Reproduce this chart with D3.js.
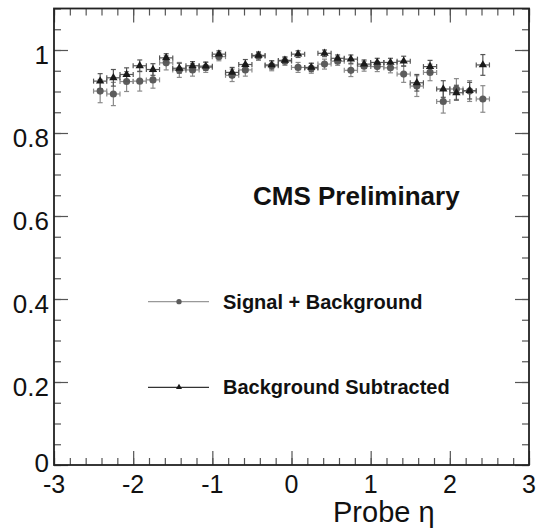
<!DOCTYPE html>
<html>
<head>
<meta charset="utf-8">
<script src="https://cdn.jsdelivr.net/npm/d3@7"></script>
<style>
  html, body { margin: 0; padding: 0; background: #fff; }
  svg text { font-family: "Liberation Sans", Arial, Helvetica, sans-serif; }
</style>
</head>
<body>
<svg id="chart" width="536" height="529"></svg>
<script>
// bin centres in probe eta (30 bins, -2.5 .. 2.5)
const etaBins = [-2.417, -2.25, -2.083, -1.917, -1.75, -1.583, -1.417, -1.25, -1.083, -0.917,
                 -0.75, -0.583, -0.417, -0.25, -0.083, 0.083, 0.25, 0.417, 0.583, 0.75,
                 0.917, 1.083, 1.25, 1.417, 1.583, 1.75, 1.917, 2.083, 2.25, 2.417];
const etaHalfWidth = 0.0833;

// efficiency, signal + background fit
const sigBkg = [0.901, 0.894, 0.924, 0.925, 0.928, 0.969, 0.952, 0.952, 0.958, 0.984,
                0.939, 0.952, 0.985, 0.962, 0.973, 0.958, 0.956, 0.966, 0.973, 0.951,
                0.961, 0.960, 0.957, 0.942, 0.913, 0.946, 0.876, 0.906, 0.901, 0.882];
const sigBkgErr = [0.028, 0.028, 0.024, 0.024, 0.020, 0.017, 0.018, 0.015, 0.012, 0.010,
                   0.015, 0.015, 0.010, 0.012, 0.010, 0.012, 0.012, 0.012, 0.010, 0.015,
                   0.012, 0.012, 0.012, 0.020, 0.025, 0.020, 0.028, 0.025, 0.025, 0.032];

// efficiency, background subtracted
const bkgSub = [0.925, 0.933, 0.941, 0.962, 0.953, 0.981, 0.956, 0.962, 0.961, 0.990,
                0.946, 0.965, 0.987, 0.964, 0.975, 0.990, 0.958, 0.992, 0.980, 0.978,
                0.966, 0.970, 0.970, 0.973, 0.921, 0.960, 0.906, 0.897, 0.902, 0.964];
const bkgSubErr = [0.018, 0.020, 0.016, 0.014, 0.014, 0.010, 0.012, 0.010, 0.010, 0.008,
                   0.012, 0.012, 0.008, 0.010, 0.008, 0.008, 0.010, 0.008, 0.008, 0.010,
                   0.010, 0.010, 0.010, 0.012, 0.020, 0.015, 0.020, 0.018, 0.020, 0.025];

const xTicks = [-3, -2, -1, 0, 1, 2, 3];
const yTicks = [0, 0.2, 0.4, 0.6, 0.8, 1];

const svg = d3.select("#chart");
const padL = 54, padR = 529, padT = 8.5, padB = 465;

const x = d3.scaleLinear().domain([-3, 3]).range([padL, padR]);
const y = d3.scaleLinear().domain([0, 1.1]).range([padB, padT]);

// ticks (ROOT style: inward, on all four sides)
const xMinor = d3.range(-3, 3.001, 0.2);
const yMinor = d3.range(0, 1.1001, 0.05);

function tickAxis(axis, transform) {
  const g = svg.append("g").attr("transform", transform).call(axis);
  g.select(".domain").remove();
  g.selectAll("text").remove();
  g.selectAll("line").attr("stroke", "#555").attr("stroke-width", 1.2);
  return g;
}

tickAxis(d3.axisTop(x).tickValues(xMinor).tickSize(7), `translate(0,${padB})`);
tickAxis(d3.axisTop(x).tickValues(xTicks).tickSize(14), `translate(0,${padB})`);
tickAxis(d3.axisBottom(x).tickValues(xMinor).tickSize(7), `translate(0,${padT})`);
tickAxis(d3.axisBottom(x).tickValues(xTicks).tickSize(14), `translate(0,${padT})`);
tickAxis(d3.axisRight(y).tickValues(yMinor).tickSize(7), `translate(${padL},0)`);
tickAxis(d3.axisRight(y).tickValues(yTicks).tickSize(14), `translate(${padL},0)`);
tickAxis(d3.axisLeft(y).tickValues(yMinor).tickSize(7), `translate(${padR},0)`);
tickAxis(d3.axisLeft(y).tickValues(yTicks).tickSize(14), `translate(${padR},0)`);

// frame
svg.append("rect")
  .attr("x", padL).attr("y", padT)
  .attr("width", padR - padL).attr("height", padB - padT)
  .attr("fill", "none").attr("stroke", "#222").attr("stroke-width", 1.8);

// tick labels
svg.append("g").selectAll("text")
  .data(xTicks)
  .join("text")
  .attr("x", d => x(d))
  .attr("y", 493)
  .attr("text-anchor", "middle")
  .attr("font-size", 25)
  .attr("fill", "#111")
  .text(d => d);

svg.append("g").selectAll("text")
  .data(yTicks)
  .join("text")
  .attr("x", 49)
  .attr("y", d => y(d) + (d === 0 ? 7 : 13.5))
  .attr("text-anchor", "end")
  .attr("font-size", 26)
  .attr("fill", "#111")
  .text(d => d);

svg.append("text")
  .attr("x", 333)
  .attr("y", 522)
  .attr("font-size", 29)
  .attr("fill", "#111")
  .text("Probe \u03b7");

// error bars + markers
function drawSeries(vals, errs, barColor, markColor, symbol, size) {
  const pts = etaBins.map((e, i) => ({ e, v: vals[i], err: errs[i] }));
  const g = svg.append("g");
  const cap = 2.5;
  pts.forEach(p => {
    const cx = x(p.e), cy = y(p.v);
    const x0 = x(p.e - etaHalfWidth), x1 = x(p.e + etaHalfWidth);
    const y0 = y(p.v - p.err), y1 = y(p.v + p.err);
    const segs = [
      [x0, cy, x1, cy], [cx, y0, cx, y1],
      [x0, cy - cap, x0, cy + cap], [x1, cy - cap, x1, cy + cap],
      [cx - cap, y0, cx + cap, y0], [cx - cap, y1, cx + cap, y1]
    ];
    segs.forEach(s => g.append("line")
      .attr("x1", s[0]).attr("y1", s[1]).attr("x2", s[2]).attr("y2", s[3])
      .attr("stroke", barColor).attr("stroke-width", 1.2));
  });
  g.selectAll("path.mark")
    .data(pts)
    .join("path")
    .attr("class", "mark")
    .attr("transform", d => `translate(${x(d.e)},${y(d.v)})`)
    .attr("d", d3.symbol().type(symbol).size(size))
    .attr("fill", markColor);
}

drawSeries(sigBkg, sigBkgErr, "#8a8a8a", "#5c5c5c", d3.symbolCircle, 40);
drawSeries(bkgSub, bkgSubErr, "#555", "#1a1a1a", d3.symbolTriangle, 30);

// text
svg.append("text")
  .attr("x", 253).attr("y", 205)
  .attr("font-size", 26).attr("font-weight", "bold")
  .attr("fill", "#111")
  .text("CMS Preliminary");

const legend = [
  { label: "Signal + Background", y: 301.7, line: "#999", mark: "#5c5c5c", sym: d3.symbolCircle, size: 22 },
  { label: "Background Subtracted", y: 387.3, line: "#333", mark: "#1a1a1a", sym: d3.symbolTriangle, size: 16 }
];
const lg = svg.append("g");
legend.forEach(l => {
  lg.append("line")
    .attr("x1", 148).attr("x2", 209).attr("y1", l.y).attr("y2", l.y)
    .attr("stroke", l.line).attr("stroke-width", 1.2);
  lg.append("path")
    .attr("transform", `translate(179,${l.y})`)
    .attr("d", d3.symbol().type(l.sym).size(l.size))
    .attr("fill", l.mark);
  lg.append("text")
    .attr("x", 223).attr("y", l.y + 7)
    .attr("font-size", 20).attr("font-weight", "bold")
    .attr("fill", "#111")
    .text(l.label);
});
</script>
</body>
</html>
